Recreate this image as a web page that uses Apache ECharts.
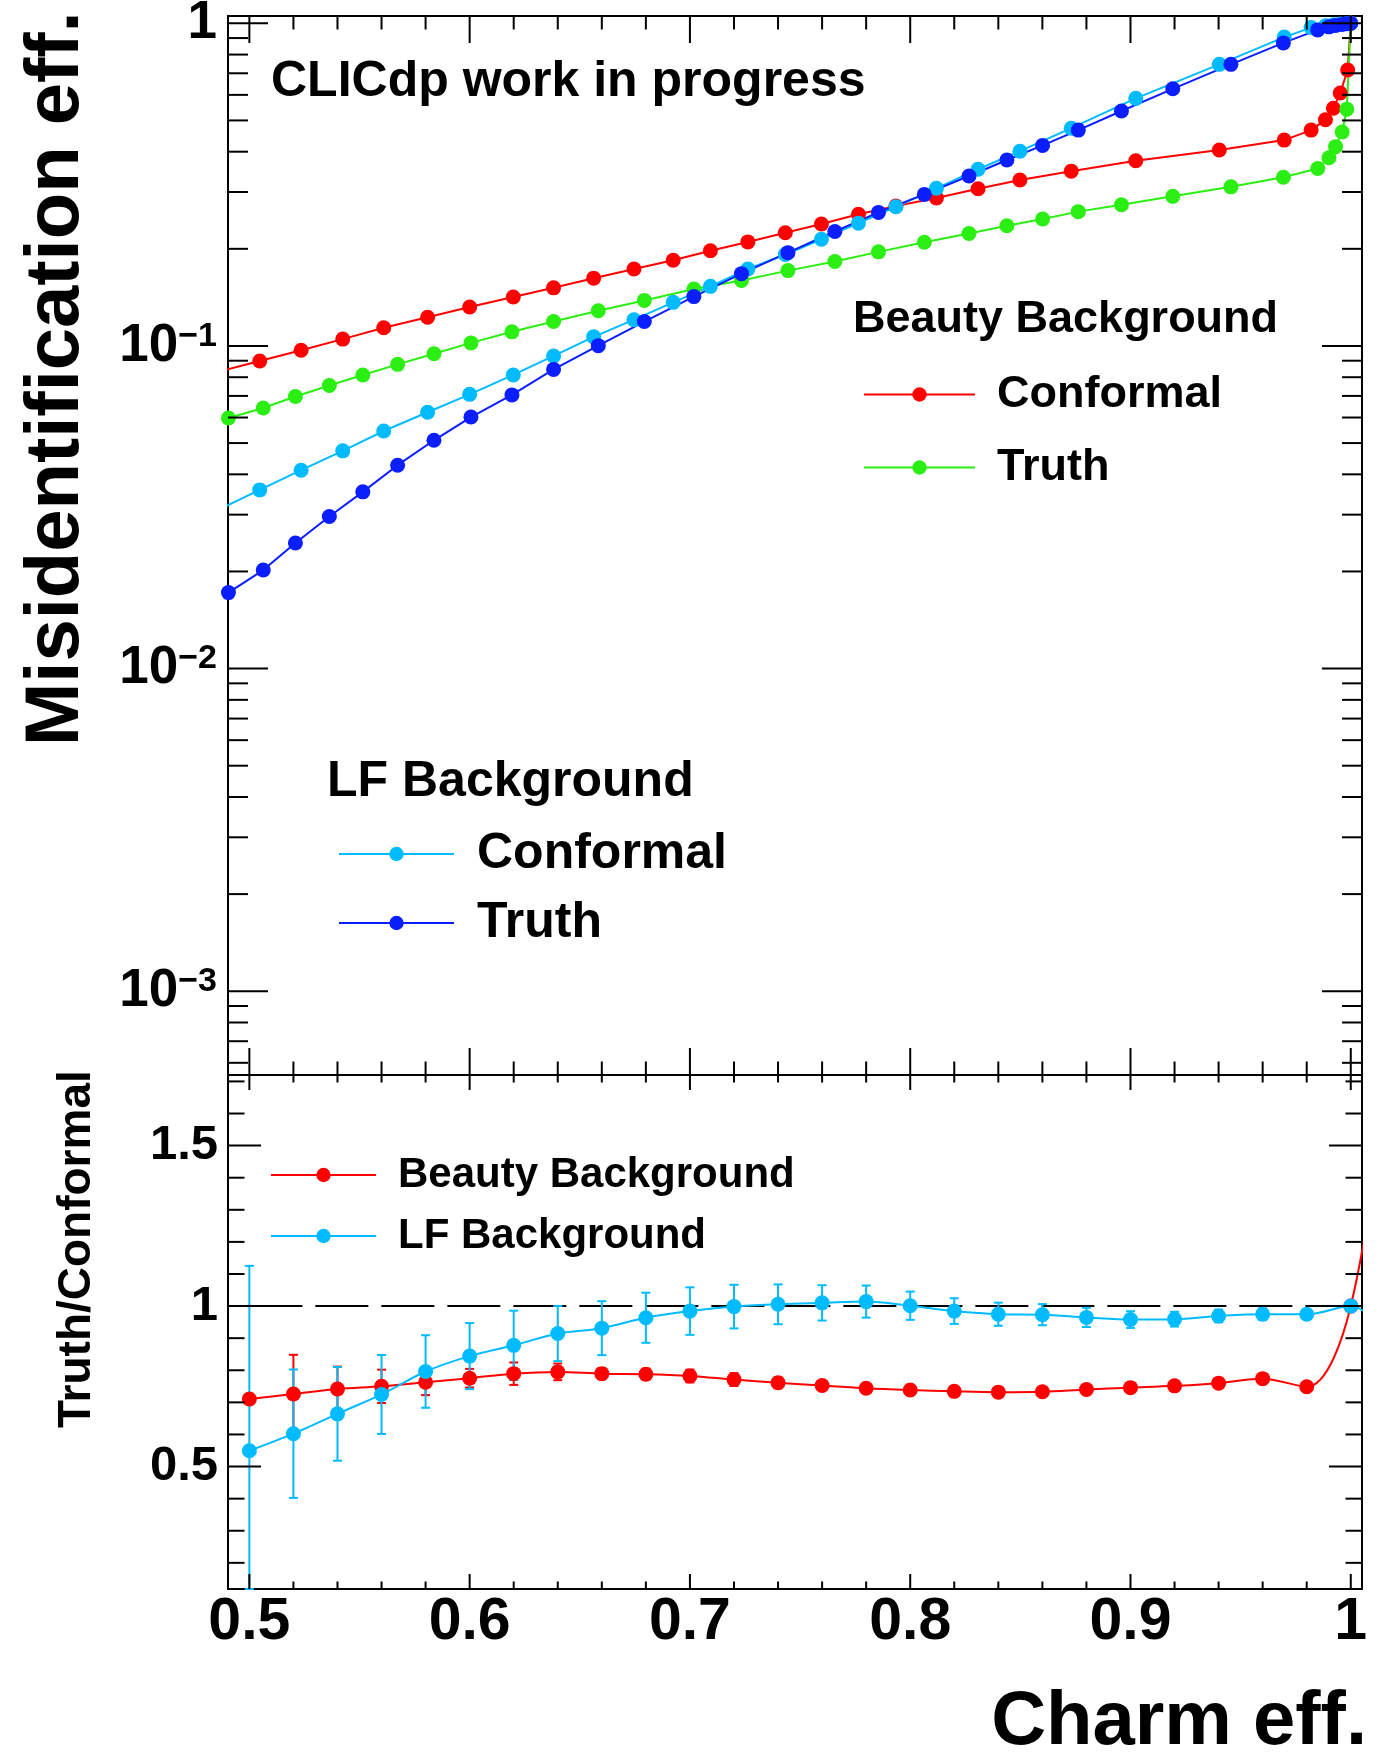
<!DOCTYPE html>
<html>
<head>
<meta charset="utf-8">
<title>Charm tagging: misidentification vs charm efficiency</title>
<script src="https://cdn.jsdelivr.net/npm/echarts@6/dist/echarts.min.js"></script>
<style>
  html, body { margin: 0; padding: 0; background: #ffffff; }
  #chart { width: 1379px; height: 1758px; }
</style>
</head>
<body>
<div id="chart"></div>
<script>
// ---- ROC scan points (charm efficiency) for each vertexing option ----
const conformalEff = [0.4860, 0.5047, 0.5235, 0.5424, 0.5610, 0.5809, 0.6000, 0.6198, 0.6381, 0.6563,
  0.6746, 0.6924, 0.7093, 0.7263, 0.7433, 0.7597, 0.7765, 0.7935, 0.8119, 0.8308,
  0.8498, 0.8731, 0.9024, 0.9403, 0.9698, 0.9820, 0.9885, 0.9921, 0.9952, 0.9986, 1.0];
const truthEff = [0.4905, 0.5063, 0.5209, 0.5363, 0.5515, 0.5673, 0.5838, 0.6006, 0.6192, 0.6381,
  0.6584, 0.6793, 0.7018, 0.7234, 0.7445, 0.7658, 0.7856, 0.8064, 0.8267, 0.8439,
  0.8601, 0.8763, 0.8959, 0.9192, 0.9456, 0.9694, 0.9850, 0.9901, 0.9931, 0.9961, 0.9982, 1.0];

// ---- misidentification efficiencies ----
const beautyConformal = [0.0832, 0.0898, 0.0970, 0.1050, 0.1139, 0.1227, 0.1321, 0.1418, 0.1514, 0.1622,
  0.1732, 0.1843, 0.1972, 0.2101, 0.2244, 0.2388, 0.2558, 0.2713, 0.2876, 0.3071,
  0.3270, 0.3481, 0.3751, 0.4048, 0.4345, 0.4667, 0.5022, 0.5452, 0.6081, 0.7165, 1.0];
const lfConformal = [0.0311, 0.0358, 0.0412, 0.0473, 0.0545, 0.0623, 0.0708, 0.0813, 0.0931, 0.1067,
  0.1206, 0.1365, 0.1530, 0.1732, 0.1920, 0.2142, 0.2402, 0.2701, 0.3080, 0.3530,
  0.4014, 0.4730, 0.5853, 0.7461, 0.9063, 0.9698, 0.982, 0.990, 0.995, 0.998, 1.0];
const beautyTruth = [0.0598, 0.0642, 0.0697, 0.0754, 0.0813, 0.0877, 0.0946, 0.1022, 0.1106, 0.1190,
  0.1285, 0.1384, 0.1502, 0.1595, 0.1712, 0.1827, 0.1957, 0.2097, 0.2232, 0.2357,
  0.2475, 0.2608, 0.2740, 0.2909, 0.3113, 0.3333, 0.3549, 0.3832, 0.4147, 0.4603, 0.5420, 1.0];
const lfTruth = [0.0172, 0.0202, 0.0245, 0.0296, 0.0353, 0.0427, 0.0510, 0.0602, 0.0705, 0.0846,
  0.1002, 0.1190, 0.1422, 0.1675, 0.1946, 0.2263, 0.2594, 0.2949, 0.3363, 0.3770,
  0.4183, 0.4667, 0.5348, 0.6266, 0.7461, 0.8694, 0.9540, 0.975, 0.985, 0.992, 0.997, 1.0];

// ---- Truth/Conformal ratio at fixed charm efficiency ----
const ratioEff = [0.50, 0.52, 0.54, 0.56, 0.58, 0.60, 0.62, 0.64, 0.66, 0.68,
  0.70, 0.72, 0.74, 0.76, 0.78, 0.80, 0.82, 0.84, 0.86, 0.88,
  0.90, 0.92, 0.94, 0.96, 0.98, 1.00, 1.02];
const beautyRatio = [0.7106, 0.7262, 0.7415, 0.7499, 0.7626, 0.7753, 0.7894, 0.7950, 0.7894, 0.7878,
  0.7822, 0.7710, 0.7610, 0.7526, 0.7442, 0.7386, 0.7344, 0.7318, 0.7331, 0.7402,
  0.7458, 0.7514, 0.7598, 0.7739, 0.7486, 1.0, 1.9];
const beautyRatioErr = [0, 0.122, 0.07, 0.052, 0.04, 0.029, 0.035, 0.026, 0.017, 0.017,
  0.02, 0.02, 0.017, 0.014, 0.012, 0.01, 0.008, 0.008, 0.008, 0.008,
  0.008, 0.008, 0.008, 0.008, 0.008, 0.008, 0];
const lfRatio = [0.5492, 0.6024, 0.6643, 0.7246, 0.7962, 0.8441, 0.8777, 0.9144, 0.9312, 0.9636,
  0.9844, 0.9984, 1.0055, 1.0100, 1.0140, 1.0012, 0.9844, 0.9747, 0.9732, 0.9648,
  0.9580, 0.9593, 0.9692, 0.9747, 0.9747, 1.0, 0.88];
const lfRatioErr = [0.576, 0.2, 0.146, 0.123, 0.113, 0.103, 0.108, 0.086, 0.084, 0.078,
  0.074, 0.068, 0.062, 0.055, 0.05, 0.044, 0.04, 0.036, 0.033, 0.03,
  0.026, 0.023, 0.02, 0.018, 0.015, 0.01, 0];
const unityLine = [[0.5, 1], [1.0, 1]];

// ---- tick values ----
const effMajorTicks = [0.5, 0.6, 0.7, 0.8, 0.9, 1.0];
const effMinorTicks = [0.52, 0.54, 0.56, 0.58, 0.62, 0.64, 0.66, 0.68, 0.72, 0.74,
  0.76, 0.78, 0.82, 0.84, 0.86, 0.88, 0.92, 0.94, 0.96, 0.98];
const misIdMajorTicks = [0.001, 0.01, 0.1, 1];
const misIdMinorTicks = [6e-4, 7e-4, 8e-4, 9e-4, 2e-3, 3e-3, 4e-3, 5e-3, 6e-3, 7e-3, 8e-3, 9e-3,
  0.02, 0.03, 0.04, 0.05, 0.06, 0.07, 0.08, 0.09, 0.2, 0.3, 0.4, 0.5, 0.6, 0.7, 0.8, 0.9];
const ratioMajorTicks = [0.5, 1, 1.5];
const ratioMinorTicks = [0.2, 0.3, 0.4, 0.6, 0.7, 0.8, 0.9, 1.1, 1.2, 1.3, 1.4, 1.6, 1.7];

// ---- styling ----
const FONT = "'Liberation Sans', Arial, Helvetica, sans-serif";
const RED = '#ff0000', GREEN = '#2bef12', CYAN = '#00bbff', BLUE = '#0a1eff';
const MARKER = 15;
const LEGEND_LABELS = {
  'Beauty Conformal': 'Conformal', 'Beauty Truth': 'Truth',
  'LF Conformal': 'Conformal', 'LF Truth': 'Truth',
  'Beauty Background': 'Beauty Background', 'LF Background': 'LF Background'
};

function pairs(xs, ys) { return xs.map((x, i) => [x, ys[i]]); }

function rocSeries(name, xs, ys, color) {
  return {
    type: 'line', name, xAxisIndex: 0, yAxisIndex: 0,
    data: pairs(xs, ys),
    symbol: 'circle', symbolSize: MARKER, showSymbol: true, showAllSymbol: true,
    lineStyle: { color, width: 2 }, itemStyle: { color },
    emphasis: { disabled: true }, clip: true, z: 3
  };
}

function ratioSeries(name, ys, color) {
  return {
    type: 'line', name, xAxisIndex: 1, yAxisIndex: 1,
    data: pairs(ratioEff, ys),
    smooth: 0.35,
    symbol: 'circle', symbolSize: MARKER, showSymbol: true, showAllSymbol: true,
    lineStyle: { color, width: 2 }, itemStyle: { color },
    emphasis: { disabled: true }, clip: true, z: 4
  };
}

// vertical error bars with small caps, clipped to the frame
function errorSeries(name, ys, errs, color) {
  return {
    type: 'custom', name: name + ' errors', xAxisIndex: 1, yAxisIndex: 1,
    data: ratioEff.map((x, i) => [x, ys[i], errs[i]]),
    silent: true, z: 3,
    renderItem: function (params, api) {
      const cs = params.coordSys;
      const x = api.value(0), y = api.value(1), e = api.value(2);
      if (!(e > 0)) return null;
      const px = api.coord([x, y])[0];
      if (px < cs.x || px > cs.x + cs.width) return null;
      const yTop = Math.max(api.coord([x, y + e])[1], cs.y);
      const yBot = Math.min(api.coord([x, y - e])[1], cs.y + cs.height);
      const st = { stroke: color, lineWidth: 2, fill: null };
      const hw = 4.5;
      return {
        type: 'group', children: [
          { type: 'line', shape: { x1: px, y1: yTop, x2: px, y2: yBot }, style: st },
          { type: 'line', shape: { x1: px - hw, y1: yTop, x2: px + hw, y2: yTop }, style: st },
          { type: 'line', shape: { x1: px - hw, y1: yBot, x2: px + hw, y2: yBot }, style: st }
        ]
      };
    }
  };
}

// inward tick marks on all four sides of a frame
// kind: 0 x-major, 1 x-minor, 2 y-major, 3 y-minor
function tickSeries(axisIdx, xMaj, xMin, yMaj, yMin, xRef, yRef, lens) {
  const data = xMaj.map(v => [v, yRef, 0])
    .concat(xMin.map(v => [v, yRef, 1]))
    .concat(yMaj.map(v => [xRef, v, 2]))
    .concat(yMin.map(v => [xRef, v, 3]));
  return {
    type: 'custom', name: 'frame ticks ' + axisIdx, xAxisIndex: axisIdx, yAxisIndex: axisIdx,
    data, silent: true, z: 6,
    renderItem: function (params, api) {
      const cs = params.coordSys;
      const kind = api.value(2);
      const p = api.coord([api.value(0), api.value(1)]);
      const len = lens[kind];
      const st = { stroke: '#000', lineWidth: 2 };
      if (kind < 2) {
        const yb = cs.y + cs.height;
        return {
          type: 'group', children: [
            { type: 'line', shape: { x1: p[0], y1: yb, x2: p[0], y2: yb - len }, style: st },
            { type: 'line', shape: { x1: p[0], y1: cs.y, x2: p[0], y2: cs.y + len }, style: st }
          ]
        };
      }
      const xr = cs.x + cs.width;
      return {
        type: 'group', children: [
          { type: 'line', shape: { x1: cs.x, y1: p[1], x2: cs.x + len, y2: p[1] }, style: st },
          { type: 'line', shape: { x1: xr, y1: p[1], x2: xr - len, y2: p[1] }, style: st }
        ]
      };
    }
  };
}

function makeLegend(names, left, top, iconWidth, fontSize, gap, textPad) {
  return {
    data: names, orient: 'vertical', left, top, padding: 0,
    itemWidth: iconWidth, itemHeight: 18, itemGap: gap, selectedMode: false,
    formatter: n => '{t|' + LEGEND_LABELS[n] + '}',
    textStyle: {
      rich: {
        t: { fontSize, fontWeight: 'bold', fontFamily: FONT, color: '#000',
             padding: [0, 0, 0, textPad], lineHeight: fontSize }
      }
    }
  };
}

function textEl(text, x, y, size, extra) {
  return Object.assign({
    type: 'text', x, y, silent: true,
    style: {
      text, fontSize: size, fontWeight: 'bold', fontFamily: FONT, fill: '#000',
      align: 'left', textAlign: 'left', verticalAlign: 'middle', textVerticalAlign: 'middle'
    }
  }, extra || {});
}

const hiddenAxisParts = {
  axisLine: { show: false }, axisTick: { show: false }, splitLine: { show: false },
  minorTick: { show: false }, minorSplitLine: { show: false }
};

const xTitle = textEl('Charm eff.', 1367, 1723, 76);
xTitle.style.align = 'right';
xTitle.style.textAlign = 'right';

const option = {
  animation: false,
  backgroundColor: '#ffffff',
  grid: [
    { left: 228, right: 17, top: 16, height: 1059, show: true, borderColor: '#000', borderWidth: 2,
      backgroundColor: 'transparent', outerBoundsMode: 'none' },
    { left: 228, right: 17, top: 1075, height: 514, show: true, borderColor: '#000', borderWidth: 2,
      backgroundColor: 'transparent', outerBoundsMode: 'none' }
  ],
  xAxis: [
    Object.assign({ type: 'value', gridIndex: 0, min: 0.4903, max: 1.0051, splitNumber: 5,
      axisLabel: { show: false } }, hiddenAxisParts),
    Object.assign({ type: 'value', gridIndex: 1, min: 0.4903, max: 1.0051, splitNumber: 5,
      axisLabel: {
        show: true, margin: 4, color: '#000', fontSize: 59, fontWeight: 'bold', fontFamily: FONT,
        formatter: function (v) {
          const t = Math.round(v * 10);
          if (Math.abs(v * 10 - t) > 1e-6) return '';
          return t === 10 ? '1' : (t / 10).toFixed(1);
        }
      } }, hiddenAxisParts)
  ],
  yAxis: [
    Object.assign({ type: 'log', logBase: 10, gridIndex: 0, min: 5.5e-4, max: 1.0535,
      axisLabel: {
        show: true, margin: 11, color: '#000',
        formatter: function (v) {
          const e = Math.log10(v);
          const k = Math.round(e);
          if (Math.abs(e - k) > 1e-6) return '';
          if (k === 0) return '{m|1}';
          return '{m|10}{s|\u2212' + (-k) + '}';
        },
        rich: {
          m: { fontSize: 53, fontWeight: 'bold', fontFamily: FONT, color: '#000' },
          s: { fontSize: 34, fontWeight: 'bold', fontFamily: FONT, color: '#000', verticalAlign: 'top' }
        }
      } }, hiddenAxisParts),
    Object.assign({ type: 'value', gridIndex: 1, min: 0.1185, max: 1.72, splitNumber: 3,
      axisLabel: {
        show: true, margin: 10, color: '#000', fontSize: 49, fontWeight: 'bold', fontFamily: FONT,
        formatter: function (v) {
          const t = Math.round(v * 2);
          if (Math.abs(v * 2 - t) > 1e-6) return '';
          return t === 2 ? '1' : String(t / 2);
        }
      } }, hiddenAxisParts)
  ],
  legend: [
    makeLegend(['Beauty Conformal', 'Beauty Truth'], 863, 372, 111, 45, 28, 17),
    makeLegend(['LF Conformal', 'LF Truth'], 338, 829, 115, 50, 19, 18),
    makeLegend(['Beauty Background', 'LF Background'], 270, 1154, 105, 42, 19, 17)
  ],
  graphic: [
    textEl('CLICdp work in progress', 271, 82, 50),
    textEl('Beauty Background', 853, 320, 45),
    textEl('LF Background', 327, 782, 50),
    textEl('Misidentification eff.', 57, 746, 76, { rotation: Math.PI / 2 }),
    textEl('Truth/Conformal', 77, 1428, 46, { rotation: Math.PI / 2 }),
    xTitle
  ],
  series: [
    tickSeries(0, effMajorTicks, effMinorTicks, misIdMajorTicks, misIdMinorTicks, 0.7, 0.1,
      [27, 13.5, 40, 20]),
    rocSeries('Beauty Conformal', conformalEff, beautyConformal, RED),
    rocSeries('Beauty Truth', truthEff, beautyTruth, GREEN),
    rocSeries('LF Conformal', conformalEff, lfConformal, CYAN),
    rocSeries('LF Truth', truthEff, lfTruth, BLUE),

    {
      type: 'line', name: 'unity', xAxisIndex: 1, yAxisIndex: 1, data: unityLine,
      symbol: 'none', lineStyle: { color: '#000', width: 2, type: [53, 13] },
      emphasis: { disabled: true }, silent: true, z: 2
    },
    errorSeries('Beauty Background', beautyRatio, beautyRatioErr, RED),
    ratioSeries('Beauty Background', beautyRatio, RED),
    errorSeries('LF Background', lfRatio, lfRatioErr, CYAN),
    ratioSeries('LF Background', lfRatio, CYAN),
    tickSeries(1, effMajorTicks, effMinorTicks, ratioMajorTicks, ratioMinorTicks, 0.7, 1.0,
      [15, 7.5, 33, 16.5])
  ]
};

const chart = echarts.init(document.getElementById('chart'), null, { renderer: 'canvas' });
chart.setOption(option);
</script>
</body>
</html>
